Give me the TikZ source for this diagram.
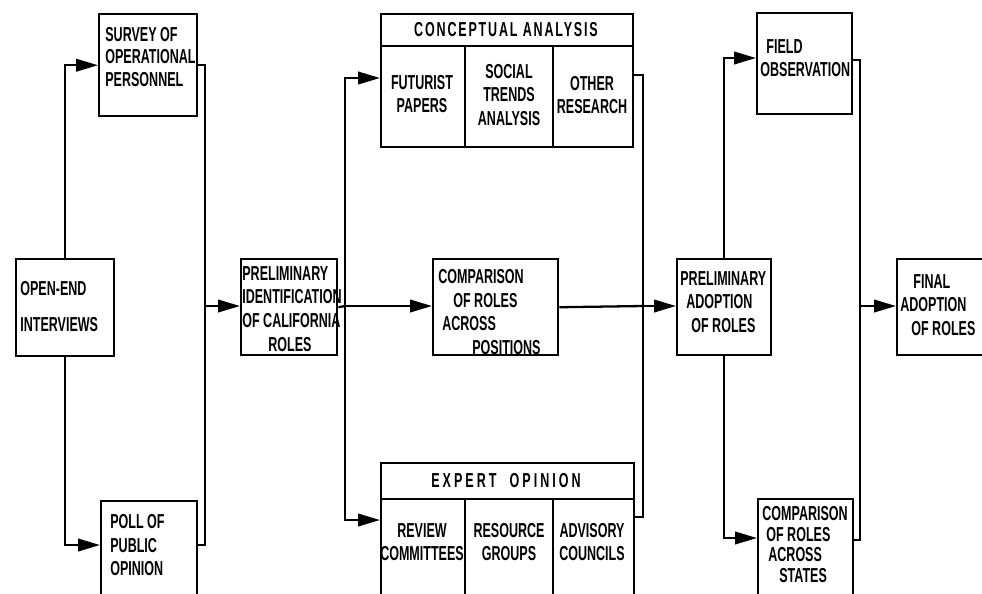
\documentclass[tikz,border=0pt]{standalone}
\usepackage{fontspec}
\setmainfont{Liberation Sans}[FakeStretch=0.62]
\usepackage{tikz}
\usetikzlibrary{arrows.meta}
\usetikzlibrary{calc}
\newcommand{\lbl}{\fontsize{11.5}{13.5}\selectfont\bfseries}

\begin{document}
\begin{tikzpicture}[x=0.02cm,y=-0.02cm,
				box/.style={draw,line width=1.4pt,inner sep=0pt,anchor=north west},
				txt/.style={inner sep=0pt,anchor=north west,align=left,font=\lbl},
				col/.style={inner sep=0pt,align=center,font=\lbl},
				wire/.style={line width=1.3pt},
				arr/.style={-{Triangle[length=4.4mm,width=2.5mm]}}]
				\useasboundingbox (0,0) rectangle (982,593);
				\clip (0,0) rectangle (982,593);
				\node[box,minimum width=1.96cm,minimum height=1.94cm] (oe) at (15,258) {};
				\node[box,minimum width=1.96cm,minimum height=2.04cm] (survey) at (98,13) {};
				\node[box,minimum width=1.92cm,minimum height=2.4cm] (poll) at (100,500) {};
				\node[box,minimum width=1.92cm,minimum height=1.92cm] (prelim) at (240,258) {};
				\node[box,minimum width=5.04cm,minimum height=2.66cm] (concept) at (380,13) {};
				\node[box,minimum width=2.5cm,minimum height=1.92cm] (comp) at (432,258) {};
				\node[box,minimum width=5.06cm,minimum height=3.2cm] (expert) at (380,462) {};
				\node[box,minimum width=1.88cm,minimum height=1.92cm] (padopt) at (676,258) {};
				\node[box,minimum width=1.9cm,minimum height=2.02cm] (field) at (756,12) {};
				\node[box,minimum width=1.9cm,minimum height=2.4cm] (cstates) at (757,498) {};
				\node[box,minimum width=2.4cm,minimum height=1.92cm] (final) at (896,258) {};
				\draw[line width=1.4pt] ($(concept.north west)+(0,33)$) -- ($(concept.north east)+(0,33)$)
				($(concept.north west)+(85,33)$) -- ($(concept.south west)+(85,0)$)
				($(concept.north west)+(173,33)$) -- ($(concept.south west)+(173,0)$);
				\draw[line width=1.4pt] ($(expert.north west)+(0,37)$) -- ($(expert.north east)+(0,37)$)
				($(expert.north west)+(85,37)$) -- ($(expert.south west)+(85,0)$)
				($(expert.north west)+(173,37)$) -- ($(expert.south west)+(173,0)$);
				\node[txt] (oe-t) at (20,281) {OPEN-END\\[7pt]INTERVIEWS};
				\node[txt] (survey-t) at (105,27) {SURVEY OF\\[-0.7pt]OPERATIONAL\\[-0.7pt]PERSONNEL};
				\node[txt] (poll-t) at (110,514) {POLL OF\\PUBLIC\\OPINION};
				\node[txt] (prelim-t) at (242,266) {PRELIMINARY\\IDENTIFICATION\\OF CALIFORNIA\\\hspace*{0.52cm}ROLES};
				\node[txt] (comp-t) at (438,269) {COMPARISON\\\hspace*{0.3cm}OF ROLES\\\hspace*{0.08cm}ACROSS\\\hspace*{0.68cm}POSITIONS};
				\node[col] (concept-t) at (506,30) {\addfontfeature{LetterSpace=9}CONCEPTUAL ANALYSIS};
				\node[col] (fut) at (422,94) {FUTURIST\\PAPERS};
				\node[col] (soc) at (509,95) {SOCIAL\\TRENDS\\ANALYSIS};
				\node[col] (oth) at (592,95) {OTHER\\RESEARCH};
				\node[col] (expert-t) at (506,481) {\addfontfeature{LetterSpace=15}EXPERT\ \ OPINION};
				\node[col] (rev) at (422,542) {REVIEW\\COMMITTEES};
				\node[col] (res) at (509,542) {RESOURCE\\GROUPS};
				\node[col] (adv) at (592,542) {ADVISORY\\COUNCILS};
				\node[txt] (padopt-t) at (680,271) {PRELIMINARY\\\hspace*{0.12cm}ADOPTION\\\hspace*{0.22cm}OF ROLES};
				\node[txt] (field-t) at (760,39) {\hspace*{0.12cm}FIELD\\OBSERVATION};
				\node[txt] (cstates-t) at (762,506) {COMPARISON\\[-1.8pt]\hspace*{0.08cm}OF ROLES\\[-1.8pt]\hspace*{0.12cm}ACROSS\\[-1.8pt]\hspace*{0.34cm}STATES};
				\node[txt] (final-t) at (900,274) {\hspace*{0.26cm}FINAL\\ADOPTION\\\hspace*{0.22cm}OF ROLES};
				\coordinate (ja) at (205,306);
				\coordinate (jb) at (345,306);
				\coordinate (jc) at (643,306);
				\coordinate (jd) at (860,306);
				\draw[wire,arr] (oe.north) |- (survey.west);
				\draw[wire,arr] (oe.south) |- ($(poll.north west)+(0,45)$);
				\draw[wire] (survey.east) -| (ja);
				\draw[wire] ($(poll.north east)+(0,45)$) -| (ja);
				\draw[wire,arr] (ja) -- (ja -| prelim.west);
				\draw[wire] (prelim.east) -- (jb);
				\draw[wire,arr] (jb) -- (jb -| comp.west);
				\draw[wire,arr] (jb) |- ($(concept.north west)+(0,65)$);
				\draw[wire,arr] (jb) |- ($(expert.north west)+(0,58)$);
				\draw[wire] ($(concept.north east)+(0,62)$) -| (jc);
				\draw[wire] ($(expert.north east)+(0,55)$) -| (jc);
				\draw[wire] (comp.east) -- (jc);
				\draw[wire,arr] (jc) -- (jc -| padopt.west);
				\draw[wire,arr] (padopt.north) |- ($(field.north west)+(0,46)$);
				\draw[wire,arr] (padopt.south) |- ($(cstates.north west)+(0,40)$);
				\draw[wire] ($(field.north east)+(0,48)$) -| (jd);
				\draw[wire] ($(cstates.north east)+(0,42)$) -| (jd);
				\draw[wire,arr] (jd) -- (jd -| final.west);
			\end{tikzpicture}
\end{document}
